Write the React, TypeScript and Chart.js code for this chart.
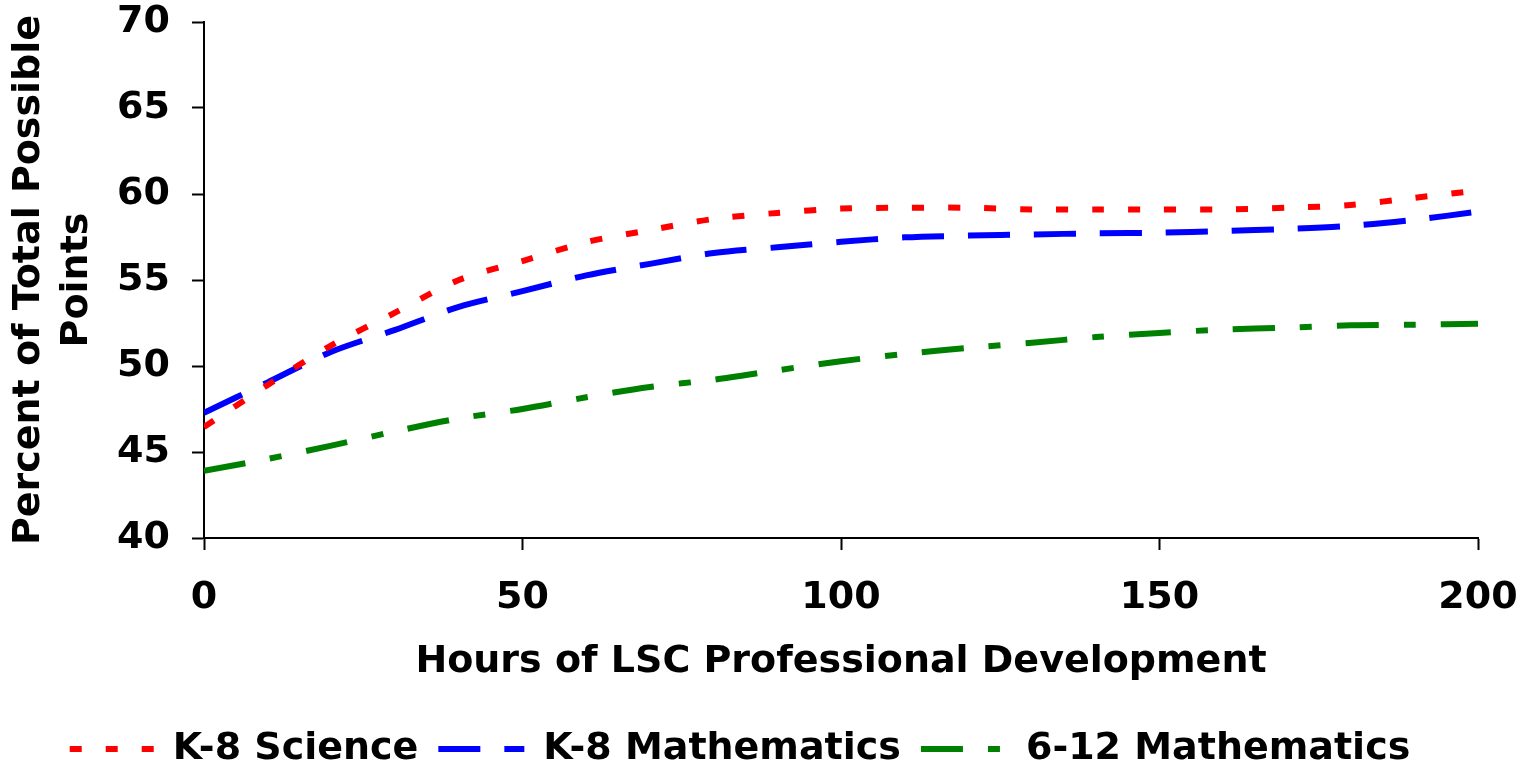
import React, { useEffect, useRef } from "react";
import { Chart, registerables } from "chart.js";

Chart.register(...registerables);

const hours = [0, 10, 20, 30, 40, 50, 60, 70, 80, 90, 100, 110, 120, 130, 140, 150, 160, 170, 180, 190, 200];
const k8Science = [46.45, 48.9, 51.2, 53.1, 55.0, 56.1, 57.2, 57.9, 58.55, 58.9, 59.15, 59.2, 59.2, 59.1, 59.1, 59.1, 59.1, 59.2, 59.36, 59.78, 60.2];
const k8Math = [47.28, 49.05, 50.83, 52.1, 53.44, 54.35, 55.27, 55.94, 56.57, 56.9, 57.22, 57.48, 57.58, 57.65, 57.71, 57.75, 57.85, 57.97, 58.15, 58.5, 58.97];
const m612Math = [43.9, 44.6, 45.37, 46.2, 46.95, 47.5, 48.18, 48.78, 49.2, 49.75, 50.28, 50.7, 51.05, 51.35, 51.68, 51.92, 52.12, 52.23, 52.37, 52.4, 52.46];

const seriesLabels = ["K-8 Science", "K-8 Mathematics", "6-12 Mathematics"];
const yTicks = [40, 45, 50, 55, 60, 65, 70];
const xTicks = [0, 50, 100, 150, 200];
const xTitle = "Hours of LSC Professional Development";
const yTitle = ["Percent of Total Possible", "Points"];

const FONT = { family: "'DejaVu Sans', Verdana, sans-serif", size: 38, weight: "bold" as const };

const DASHES = [
  [12, 24],
  [42, 24],
  [42, 25, 12, 25],
];
const LEGEND_DASH_OFFSETS = [-2, 0, 0];

export default function App() {
  const ref = useRef<HTMLCanvasElement | null>(null);

  useEffect(() => {
    if (!ref.current) return;
    const toPts = (vals: number[]) => hours.map((h, i) => ({ x: h, y: vals[i] }));
    const colors = ["#FF0000", "#0000FF", "#008000"];
    const series = [k8Science, k8Math, m612Math];
    const chart = new Chart(ref.current, {
      type: "line",
      data: {
        datasets: series.map((vals, i) => ({
          label: seriesLabels[i],
          data: toPts(vals),
          borderColor: colors[i],
          backgroundColor: colors[i],
          borderWidth: 6,
          borderDash: DASHES[i],
          borderCapStyle: "butt",
          pointRadius: 0,
          pointStyle: "line",
          tension: 0.3,
        })),
      },
      options: {
        responsive: false,
        animation: false,
        devicePixelRatio: 1,
        layout: { padding: { left: 0, right: 52, top: 22, bottom: -13 } },
        plugins: {
          tooltip: { enabled: false },
          legend: {
            position: "bottom",
            labels: {
              usePointStyle: true,
              pointStyleWidth: 86,
              padding: 20,
              color: "#000",
              font: FONT,
              generateLabels: (c: any) => {
                const items = Chart.defaults.plugins.legend.labels.generateLabels(c);
                return items.map((it: any, i: number) => ({
                  ...it,
                  pointStyle: "line",
                  strokeStyle: colors[i],
                  fillStyle: colors[i],
                  lineDash: DASHES[i],
                  lineDashOffset: LEGEND_DASH_OFFSETS[i] || 0,
                  lineCap: "butt",
                  lineWidth: 6,
                }));
              },
            },
          },
        },
        scales: {
          x: {
            type: "linear",
            min: 0,
            max: 200,
            afterBuildTicks: (s: any) => {
              s.ticks = xTicks.map((v) => ({ value: v }));
            },
            afterFit: (s: any) => {
              s.height = 172;
              s.paddingLeft = 0;
              s.paddingRight = 0;
            },
            ticks: { color: "#000", font: FONT, padding: 25, maxRotation: 0 },
            grid: { drawOnChartArea: false, drawTicks: true, tickLength: 12, tickColor: "#000", tickWidth: 2 },
            border: { display: true, color: "#000", width: 2 },
            title: {
              display: true,
              text: xTitle,
              color: "#000",
              font: FONT,
              padding: { top: 0, bottom: 25 },
            },
          },
          y: {
            type: "linear",
            min: 40,
            max: 70,
            afterBuildTicks: (s: any) => {
              s.ticks = yTicks.map((v) => ({ value: v }));
            },
            afterFit: (s: any) => {
              s.width = 204;
              s.paddingTop = 0;
              s.paddingBottom = 0;
            },
            ticks: { color: "#000", font: FONT, padding: 22 },
            grid: { drawOnChartArea: false, drawTicks: true, tickLength: 12, tickColor: "#000", tickWidth: 2 },
            border: { display: true, color: "#000", width: 2 },
            title: {
              display: true,
              text: yTitle,
              color: "#000",
              font: { ...FONT, lineHeight: 1.263 },
              padding: { top: 5, bottom: 0 },
            },
          },
        },
      },
    });
    return () => chart.destroy();
  }, []);

  return (
    <div style={{ position: "fixed", left: 0, top: 0, width: 1530, height: 765, background: "#fff" }}>
      <canvas ref={ref} width={1530} height={765} style={{ width: 1530, height: 765 }} />
    </div>
  );
}
